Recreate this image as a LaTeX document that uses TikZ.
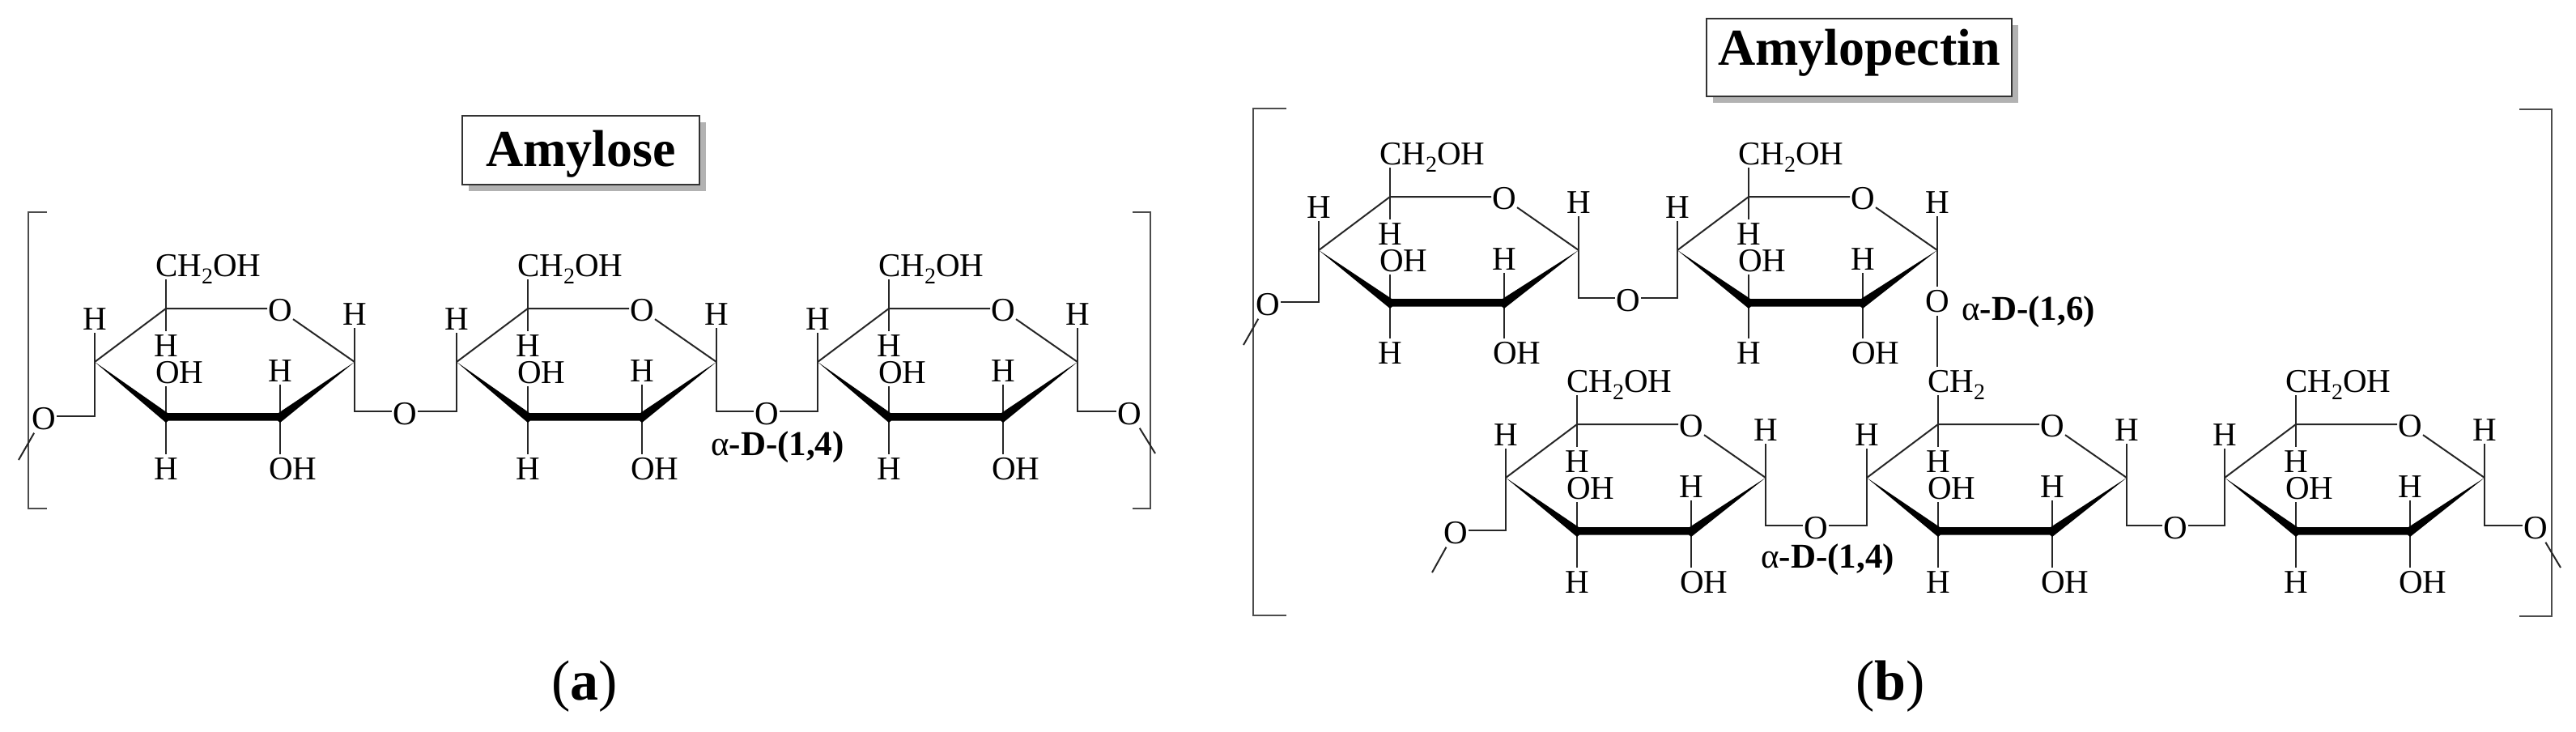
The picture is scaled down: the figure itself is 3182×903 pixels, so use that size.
\documentclass[tikz,border=0pt]{standalone}
\usepackage{fontspec}
\setmainfont{Liberation Serif}
\usetikzlibrary{calc,shadows}
\newcommand{\chemsub}{\raisebox{-0.24em}{\fontsize{28}{28}\selectfont 2}}
\newcommand{\sugar}[6]{%
  \coordinate (#1c4) at (#2,#3);
  \coordinate (#1c5) at ($(#1c4)+(88,-66)$);
  \coordinate (#1c3) at ($(#1c4)+(88,#4)$);
  \coordinate (#1c2) at ($(#1c4)+(229,#4)$);
  \coordinate (#1c1) at ($(#1c4)+(321,0)$);
  \node[atom] (#1O) at ($(#1c4)+(229,-64)$) {O};
  \node[lab,anchor=base] (#1h4) at ($(#1c4)+(0,-40)$) {H};
  \node[lab,anchor=base] (#1h1) at ($(#1c4)+(321,-46)$) {H};
  \node[lab,anchor=base] (#1h5) at ($(#1c4)+(88,-7)$) {H};
  \node[lab,anchor=base] (#1h2) at ($(#1c4)+(229,24)$) {H};
  \node[lab,anchor=base] (#1h3) at ($(#1c4)+(88,#5)$) {H};
  \node[lab,anchor=base west] (#1top) at ($(#1c4)+(75,-106)$) {#6};
  \node[lab,anchor=base west] (#1oh3) at ($(#1c4)+(75,26)$) {OH};
  \node[lab,anchor=base west] (#1oh2) at ($(#1c4)+(215,#5)$) {OH};
  \draw[bond] (#1c4) -- (#1c5) -- (#1O.west |- #1c5);
  \draw[bond] (#1O) -- (#1c1);
  \draw[bond] (#1c4) -- (#1h4);
  \draw[bond] (#1c1) -- (#1h1);
  \draw[bond] (#1c5) -- (#1c5 |- #1top.south);
  \draw[bond] (#1c5) -- (#1h5);
  \draw[bond] (#1c3) -- (#1c3 |- #1oh3.south);
  \draw[bond] (#1c3) -- (#1h3);
  \draw[bond] (#1c2) -- (#1h2);
  \draw[bond] (#1c2) -- (#1c2 |- #1oh2.north);
  \fill[wedge] (#1c4) -- ($(#1c3)+(2,-5)$) -- ($(#1c2)+(-2,-5)$) -- (#1c1)
     -- ($(#1c2)+(0,7)$) -- ($(#1c2)+(-3,4.5)$) -- ($(#1c3)+(3,4.5)$) -- ($(#1c3)+(0,7)$) -- cycle;
}
\tikzset{
  x=1pt,y=-1pt,
  lab/.style={font=\fontsize{41}{41}\selectfont,inner xsep=0pt,inner ysep=4pt,text height=27pt,text depth=0pt},
  atom/.style={lab,inner xsep=1pt,anchor=center},
  linkatom/.style={lab,inner xsep=1pt,anchor=center,text height=33pt},
  bond/.style={line width=2pt,draw=black!85},
  wedge/.style={fill=black},
  bracket/.style={line width=2.6pt,draw=black!70},
  linkage/.style={font=\fontsize{43}{43}\selectfont,inner sep=0pt,anchor=base west},
  panel/.style={font=\fontsize{70}{70}\selectfont,inner sep=0pt,anchor=base},
  titlebox/.style={draw=black!80,line width=2pt,fill=white,
    font=\fontsize{64}{64}\selectfont\bfseries,inner sep=0pt,
    drop shadow={shadow xshift=8pt,shadow yshift=-8pt,fill=black!30,opacity=1}},
}
\begin{document}
\begin{tikzpicture}
\useasboundingbox (0,0) rectangle (3182,903);

% ---------- Amylose ----------
\node[titlebox,minimum width=293pt,minimum height=85pt,text height=45pt,text depth=6pt] (amylose) at (717.5,185.5) {Amylose};
\coordinate (lbt) at (58,262); \coordinate (lbb) at (58,628);
\coordinate (lbl1) at (35,262); \coordinate (lbl2) at (35,628);
\draw[bracket] (lbt) -- (lbl1) -- (lbl2) -- (lbb);
\coordinate (rbt) at (1399,262); \coordinate (rbb) at (1399,628);
\coordinate (rbl1) at (1421,262); \coordinate (rbl2) at (1421,628);
\draw[bracket] (rbt) -- (rbl1) -- (rbl2) -- (rbb);

\sugar{a}{117}{447}{68}{145}{CH\chemsub OH}
\sugar{b}{564}{447}{68}{145}{CH\chemsub OH}
\sugar{c}{1010}{447}{68}{145}{CH\chemsub OH}

\node[linkatom] (ao1) at (54,514) {O};
\node[linkatom] (ao2) at (500,508) {O};
\node[linkatom] (ao3) at (947,508) {O};
\node[linkatom] (ao4) at (1395,508) {O};
\coordinate (afree1) at (23,568);
\coordinate (afree2) at (1427,560);
\draw[bond] (afree1) -- (ao1);
\draw[bond] (ao1) -| (ac4);
\draw[bond] (ac1) |- (ao2);
\draw[bond] (ao2) -| (bc4);
\draw[bond] (bc1) |- (ao3);
\draw[bond] (ao3) -| (cc4);
\draw[bond] (cc1) |- (ao4);
\draw[bond] (ao4) -- (afree2);
\node[linkage] (alink) at (878,562) {α\textbf{-D-(1,4)}};
\node[panel] (pa) at (722,864) {(\textbf{a})};

% ---------- Amylopectin ----------
\node[titlebox,minimum width=377pt,minimum height=96pt,text height=30pt,text depth=12pt] (amylopectin) at (2296.5,71) {Amylopectin};
\coordinate (plt) at (1589,134); \coordinate (plb) at (1589,760);
\coordinate (pll1) at (1548,134); \coordinate (pll2) at (1548,760);
\draw[bracket] (plt) -- (pll1) -- (pll2) -- (plb);
\coordinate (prt) at (3112,135); \coordinate (prb) at (3112,761);
\coordinate (prl1) at (3152,135); \coordinate (prl2) at (3152,761);
\draw[bracket] (prt) -- (prl1) -- (prl2) -- (prb);

\sugar{d}{1629}{309}{65}{140}{CH\chemsub OH}
\sugar{e}{2072}{309}{65}{140}{CH\chemsub OH}
\sugar{f}{1860}{590}{66}{142}{CH\chemsub OH}
\sugar{g}{2306}{590}{66}{142}{CH\chemsub}
\sugar{h}{2748}{590}{66}{142}{CH\chemsub OH}

\node[linkatom] (po1) at (1566,373) {O};
\node[linkatom] (po2) at (2011,368) {O};
\node[atom] (po3) at (2393,372) {O};
\node[linkatom] (po4) at (1798,655) {O};
\node[linkatom] (po5) at (2243,649) {O};
\node[linkatom] (po6) at (2687,649) {O};
\node[linkatom] (po7) at (3132,649) {O};
\coordinate (pfree1) at (1536,426);
\coordinate (pfree2) at (1769,707);
\coordinate (pfree3) at (3163,701);
\draw[bond] (pfree1) -- (po1);
\draw[bond] (po1) -| (dc4);
\draw[bond] (dc1) |- (po2);
\draw[bond] (po2) -| (ec4);
\draw[bond] (ec1) -- (po3);
\draw[bond] (po3) -- (po3 |- gtop.north);
\draw[bond] (pfree2) -- (po4);
\draw[bond] (po4) -| (fc4);
\draw[bond] (fc1) |- (po5);
\draw[bond] (po5) -| (gc4);
\draw[bond] (gc1) |- (po6);
\draw[bond] (po6) -| (hc4);
\draw[bond] (hc1) |- (po7);
\draw[bond] (po7) -- (pfree3);
\node[linkage] (plink1) at (2423,395) {α\textbf{-D-(1,6)}};
\node[linkage] (plink2) at (2175,701) {α\textbf{-D-(1,4)}};
\node[panel] (pb) at (2335,864) {(\textbf{b})};
\end{tikzpicture}
\end{document}
